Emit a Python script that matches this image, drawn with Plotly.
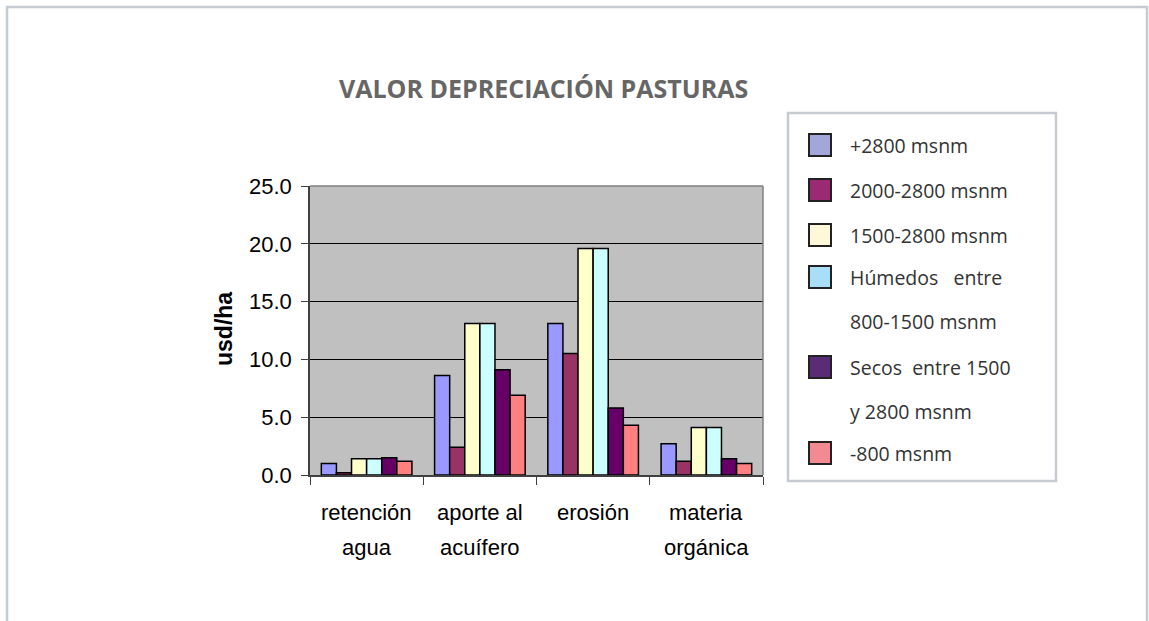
import plotly.graph_objects as go

categories = ["retención agua", "aporte al acuífero", "erosión", "materia orgánica"]
series_names = ["+2800 msnm", "2000-2800 msnm", "1500-2800 msnm",
                "Húmedos  entre 800-1500 msnm", "Secos  entre 1500 y 2800 msnm", "-800 msnm"]
v_2800_plus = [1.0, 8.6, 13.1, 2.7]
v_2000_2800 = [0.2, 2.4, 10.5, 1.2]
v_1500_2800 = [1.4, 13.1, 19.6, 4.1]
v_humedos = [1.4, 13.1, 19.6, 4.1]
v_secos = [1.5, 9.1, 5.8, 1.4]
v_800_minus = [1.2, 6.9, 4.3, 1.0]
series_values = [v_2800_plus, v_2000_2800, v_1500_2800, v_humedos, v_secos, v_800_minus]
bar_colors = ["#9999FF", "#993366", "#FFFFCC", "#CCFFFF", "#660066", "#FF8080"]
legend_colors = ["#A3A6D9", "#9A2A72", "#FFF8D8", "#A8DFF6", "#5A2C75", "#F28A92"]
legend_lines = [["+2800 msnm"], ["2000-2800 msnm"], ["1500-2800 msnm"],
                ["Húmedos&nbsp;&nbsp; entre", "800-1500 msnm"],
                ["Secos&nbsp; entre 1500", "y 2800 msnm"], ["-800 msnm"]]
y_ticks = [0, 5, 10, 15, 20, 25]

W, H = 1149, 621
L, R, T, B = 310, 763, 186, 475  # page coordinates of plot area

def px(x):
    return (x - L) / (R - L)

def py(y):
    return (B - y) / (B - T)

fig = go.Figure()
for name, vals, col in zip(series_names, series_values, bar_colors):
    fig.add_trace(go.Bar(x=categories, y=vals, name=name, marker_color=col,
                         marker_line=dict(color="black", width=1.5), showlegend=False))

shapes = []
annotations = []
# outer border
shapes.append(dict(type="rect", xref="paper", yref="paper", x0=px(7), x1=px(1147), y0=py(660), y1=py(7),
                   line=dict(color="#C5CBD1", width=2.5), layer="below"))
# legend box
shapes.append(dict(type="rect", xref="paper", yref="paper", x0=px(788), x1=px(1056), y0=py(481), y1=py(113),
                   line=dict(color="#C5CBD1", width=2.5)))
sw_y = [145, 190, 235, 277, 367, 453]
line_step = 44
for i, (lines, col) in enumerate(zip(legend_lines, legend_colors)):
    yc = sw_y[i]
    shapes.append(dict(type="rect", xref="paper", yref="paper", x0=px(809), x1=px(831),
                       y0=py(yc + 11), y1=py(yc - 11), fillcolor=col, line=dict(color="#222222", width=2)))
    for j, txt in enumerate(lines):
        annotations.append(dict(xref="paper", yref="paper", x=px(848), y=py(yc + j * line_step),
                                text=txt, showarrow=False, xanchor="left", yanchor="middle",
                                font=dict(family="Open Sans", size=19.5, color="#333333")))

# title
annotations.append(dict(xref="paper", yref="paper", x=px(543), y=py(88), text="<b>VALOR DEPRECIACIÓN PASTURAS</b>",
                        showarrow=False, xanchor="center", yanchor="middle",
                        font=dict(family="Open Sans", size=25, color="#666666")))
# y title
annotations.append(dict(xref="paper", yref="paper", x=px(224), y=py(329), text="<b>usd/ha</b>", textangle=-90,
                        showarrow=False, xanchor="center", yanchor="middle",
                        font=dict(family="Liberation Sans, Arial", size=23, color="black")))
# x category labels (two lines each)
split_labels = [["retención", "agua"], ["aporte al", "acuífero"], ["erosión"], ["materia", "orgánica"]]
for cat, parts in zip(categories, split_labels):
    for j, p in enumerate(parts):
        annotations.append(dict(xref="x", yref="paper", x=cat, y=py(512 + 35 * j), text=p, showarrow=False,
                                xanchor="center", yanchor="middle",
                                font=dict(family="Liberation Sans, Arial", size=22, color="black")))

fig.update_layout(
    width=W, height=H, autosize=False,
    margin=dict(l=L, r=W - R, t=T, b=H - B, pad=0),
    paper_bgcolor="white", plot_bgcolor="#C0C0C0",
    barmode="group", bargap=0.2, bargroupgap=0,
    shapes=shapes, annotations=annotations,
    xaxis=dict(showticklabels=False, tickson="boundaries", ticks="outside", ticklen=8, tickcolor="#404040",
               showline=True, linecolor="#404040", linewidth=1.5, mirror=False, showgrid=False),
    yaxis=dict(range=[0, 25], tickvals=y_ticks, ticktext=[f"{v:.1f}" for v in y_ticks], ticks="outside",
               ticklen=7, tickcolor="#404040", showline=True, linecolor="#404040", linewidth=1.5,
               showgrid=True, gridcolor="black", gridwidth=1, zeroline=False, ticklabelstandoff=5,
               tickfont=dict(family="Liberation Sans, Arial", size=22, color="black")),
)
# plot frame (top and right gray)
fig.add_shape(type="line", xref="paper", yref="paper", x0=0, x1=1, y0=1, y1=1, line=dict(color="#808080", width=1.5))
fig.add_shape(type="line", xref="paper", yref="paper", x0=1, x1=1, y0=0, y1=1, line=dict(color="#808080", width=1.5))

fig.write_html("out.html", config={"displayModeBar": False},
               post_script="document.body.style.margin='0';document.body.style.overflow='hidden';")
